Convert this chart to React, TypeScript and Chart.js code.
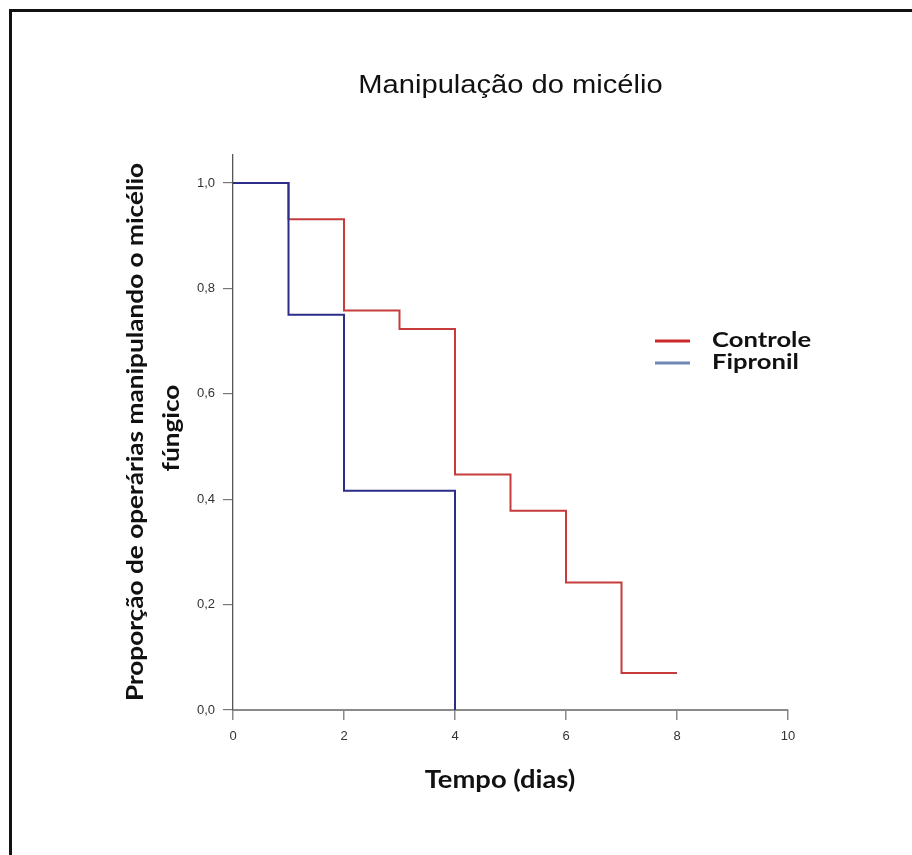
import React, { useEffect, useRef } from "react";
import { Chart, registerables } from "chart.js";

Chart.register(...registerables);

// ---- data ----
const chartTitle = "Manipulação do micélio";
const yTitleLines = ["Proporção de operárias manipulando o micélio", "fúngico"];
const xTitle = "Tempo (dias)";

const seriesNames = ["Controle", "Fipronil"];

const controleDias = [0, 1, 2, 3, 4, 5, 6, 7, 8];
const controleProp = [1.0, 0.931, 0.758, 0.723, 0.447, 0.378, 0.242, 0.07, 0.07];

const fipronilDias = [0, 1, 2, 4];
const fipronilProp = [1.0, 0.75, 0.416, 0.0];

const xTicks = [0, 2, 4, 6, 8, 10];
const yTicks = [0, 0.2, 0.4, 0.6, 0.8, 1.0];

const W = 912;
const H = 855;

function drawText(
  ctx: CanvasRenderingContext2D,
  text: string,
  x: number,
  y: number,
  font: string,
  stretch: number,
  align: CanvasTextAlign,
  baseline: CanvasTextBaseline,
  rotate = 0
) {
  ctx.save();
  ctx.translate(x, y);
  if (rotate) ctx.rotate(rotate);
  ctx.scale(stretch, 1);
  ctx.font = font;
  ctx.textAlign = align;
  ctx.textBaseline = baseline;
  ctx.fillText(text, 0, 0);
  ctx.restore();
}

const textPlugin = {
  id: "customTexts",
  afterDraw(chart: any) {
    const { ctx } = chart;
    ctx.save();
    ctx.fillStyle = "#111";
    const bold = (s: number) => `bold ${s}px Lato, sans-serif`;

    // Title
    drawText(ctx, chartTitle, 510.5, 93, "26px 'Liberation Sans', Arial, sans-serif", 1.12, "center", "alphabetic");

    // Y title (rotated)
    drawText(ctx, yTitleLines[0], 143, 432, bold(22), 1.19, "center", "alphabetic", -Math.PI / 2);
    drawText(ctx, yTitleLines[1], 179, 428, bold(22), 1.19, "center", "alphabetic", -Math.PI / 2);

    // X title
    drawText(ctx, xTitle, 500, 788, bold(24), 1.14, "center", "alphabetic");

    // Legend
    const lx = 655;
    const items = [
      { name: seriesNames[0], color: "#cc2a2a", y: 341 },
      { name: seriesNames[1], color: "#7088b4", y: 363 },
    ];
    for (const it of items) {
      ctx.strokeStyle = it.color;
      ctx.lineWidth = 3;
      ctx.beginPath();
      ctx.moveTo(lx, it.y);
      ctx.lineTo(lx + 35, it.y);
      ctx.stroke();
      drawText(ctx, it.name, lx + 57, it.y - 1, bold(21), 1.22, "left", "middle");
    }
    ctx.restore();
  },
};

export default function App() {
  const ref = useRef<HTMLCanvasElement>(null);
  useEffect(() => {
    if (!ref.current) return;
    const chart = new Chart(ref.current, {
      type: "line",
      data: {
        datasets: [
          {
            label: seriesNames[0],
            data: controleDias.map((d, i) => ({ x: d, y: controleProp[i] })),
            borderColor: "#c63c3c",
            borderWidth: 2,
            pointRadius: 0,
            stepped: "before",
            fill: false,
            order: 1,
          },
          {
            label: seriesNames[1],
            data: fipronilDias.map((d, i) => ({ x: d, y: fipronilProp[i] })),
            borderColor: "#2c2c8a",
            borderWidth: 2,
            pointRadius: 0,
            stepped: "before",
            fill: false,
            order: 0,
          },
        ],
      },
      plugins: [textPlugin],
      options: {
        responsive: false,
        animation: false,
        devicePixelRatio: 1,
        layout: { padding: { top: 155, right: W - 788, left: 0, bottom: 0 } },
        plugins: {
          legend: { display: false },
          title: { display: false },
          tooltip: { enabled: false },
        },
        scales: {
          x: {
            type: "linear",
            min: 0,
            max: 10,
            afterFit: (s: any) => {
              s.height = H - 710;
            },
            afterBuildTicks: (s: any) => {
              s.ticks = xTicks.map((v) => ({ value: v }));
            },
            ticks: {
              color: "#333",
              font: { family: "'Liberation Sans', Arial, sans-serif", size: 13 },
              padding: 9,
              maxRotation: 0,
              callback: (v: any) => String(v),
            },
            grid: {
              display: true,
              drawOnChartArea: false,
              drawTicks: true,
              tickLength: 10,
              color: "#8a8a8a",
              lineWidth: 1.5,
            },
            border: { display: true, color: "#8a8a8a", width: 2 },
          },
          y: {
            type: "linear",
            min: 0,
            max: 1.053,
            afterFit: (s: any) => {
              s.width = 233;
            },
            afterBuildTicks: (s: any) => {
              s.ticks = yTicks.map((v) => ({ value: v }));
            },
            ticks: {
              color: "#333",
              font: { family: "'Liberation Sans', Arial, sans-serif", size: 13 },
              padding: 8,
              callback: (v: any) => Number(v).toFixed(1).replace(".", ","),
            },
            grid: {
              display: true,
              drawOnChartArea: false,
              drawTicks: true,
              tickLength: 10,
              color: "#777",
              lineWidth: 1.2,
            },
            border: { display: true, color: "#555", width: 1.3 },
          },
        },
      },
    });
    return () => chart.destroy();
  }, []);

  return (
    <div
      style={{
        position: "fixed",
        left: 0,
        top: 0,
        width: W,
        height: H,
        background: "#fff",
        overflow: "hidden",
      }}
    >
      <canvas ref={ref} width={W} height={H} style={{ position: "absolute", left: 0, top: 0 }} />
      <div
        style={{
          position: "absolute",
          left: 9,
          top: 9,
          width: W,
          height: H,
          borderTop: "3px solid #111",
          borderLeft: "3px solid #111",
          pointerEvents: "none",
        }}
      />
    </div>
  );
}
